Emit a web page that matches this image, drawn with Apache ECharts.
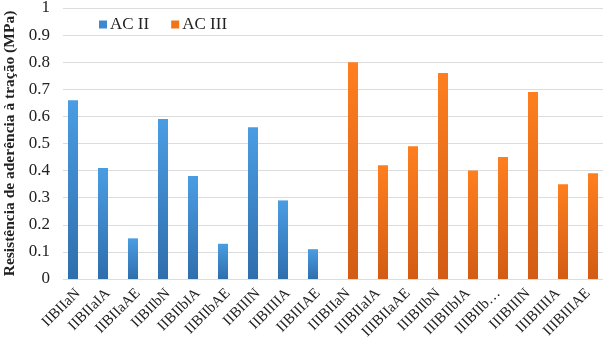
<!DOCTYPE html>
<html>
<head>
<meta charset="utf-8">
<script src="https://cdn.jsdelivr.net/npm/echarts@6/dist/echarts.min.js"></script>
<style>
  html, body { margin: 0; padding: 0; background: #fff; }
  #chart { width: 606px; height: 346px; }
</style>
</head>
<body>
<div id="chart"></div>
<script>
// categories along the x axis
const categories = [
  'IIBIIaN', 'IIBIIaIA', 'IIBIIaAE', 'IIBIIbN', 'IIBIIbIA', 'IIBIIbAE',
  'IIBIIIN', 'IIBIIIIA', 'IIBIIIAE',
  'IIIBIIaN', 'IIIBIIaIA', 'IIIBIIaAE', 'IIIBIIbN', 'IIIBIIbIA', 'IIIBIIb…',
  'IIIBIIIN', 'IIIBIIIIA', 'IIIBIIIAE'
];
// AC II only has values on the first nine, AC III on the last nine
const acII = [0.66, 0.41, 0.15, 0.59, 0.38, 0.13, 0.56, 0.29, 0.11,
  null, null, null, null, null, null, null, null, null];
const acIII = [null, null, null, null, null, null, null, null, null,
  0.80, 0.42, 0.49, 0.76, 0.40, 0.45, 0.69, 0.35, 0.39];
const yTicks = [0, 0.1, 0.2, 0.3, 0.4, 0.5, 0.6, 0.7, 0.8, 0.9, 1];

const serif = '"Liberation Serif", "Times New Roman", serif';

function grad(top, bottom) {
  return new echarts.graphic.LinearGradient(0, 0, 0, 1, [
    {offset: 0, color: top},
    {offset: 1, color: bottom}
  ]);
}

let chart = echarts.init(document.getElementById('chart'));
chart.setOption({
  animation: false,
  grid: {left: 63, right: 3, top: 8, bottom: 67, containLabel: false, outerBoundsMode: 'none'},
  legend: {
    left: 94,
    top: 11,
    itemWidth: 8,
    itemHeight: 8,
    itemGap: 22,
    icon: 'rect',
    textStyle: {fontFamily: serif, fontSize: 17, color: '#222', padding: [0, 0, 0, -2]},
    data: [
      {name: 'AC II', itemStyle: {color: '#3f88d0'}},
      {name: 'AC III', itemStyle: {color: '#f27318'}}
    ]
  },
  xAxis: [{
    type: 'category',
    data: categories,
    axisLine: {show: false},
    axisTick: {show: false},
    axisLabel: {
      rotate: 45,
      interval: 0,
      margin: 12,
      fontFamily: serif,
      fontSize: 15,
      color: '#222'
    }
  }],
  yAxis: [{
    type: 'value',
    min: yTicks[0],
    max: yTicks[yTicks.length - 1],
    interval: 0.1,
    name: 'Resistência de aderência à tração (MPa)',
    nameLocation: 'middle',
    nameGap: 43,
    nameTextStyle: {fontFamily: serif, fontSize: 15.5, fontWeight: 'bold', color: '#222'},
    axisLabel: {
      fontFamily: serif,
      fontSize: 17,
      color: '#222',
      margin: 13,
      formatter: function (v) { return String(Math.round(v * 10) / 10); }
    },
    splitLine: {lineStyle: {color: '#dcdcdc', width: 1}}
  }],
  series: [
    {
      name: 'AC II',
      type: 'bar',
      data: acII,
      barWidth: 10,
      barGap: '0%',
      itemStyle: {color: grad('#4a9de3', '#2f6ead')}
    },
    {
      name: 'AC III',
      type: 'bar',
      data: acIII,
      barWidth: 10,
      itemStyle: {color: grad('#ff7f1f', '#d25c14')}
    }
  ]
});
</script>
</body>
</html>
